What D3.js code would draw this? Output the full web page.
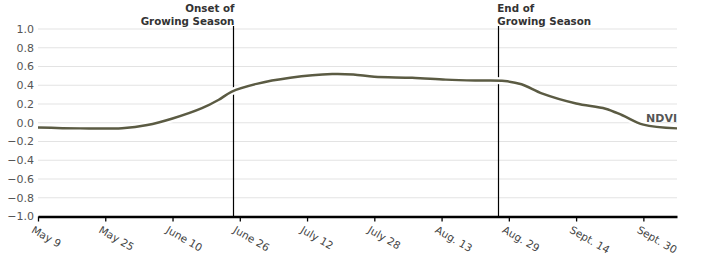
<!DOCTYPE html>
<html>
<head>
<meta charset="utf-8">
<script src="https://cdn.jsdelivr.net/npm/d3@7"></script>
<style>
  body { margin: 0; background: #fff; }
  svg { display: block; font-family: "DejaVu Sans", sans-serif; }
</style>
</head>
<body>
<svg id="chart" width="720" height="270"></svg>
<script>
// NDVI curve (day, value)
var DATES = ["2013-05-09","2013-05-19","2013-05-29","2013-06-04","2013-06-10","2013-06-17",
    "2013-06-21","2013-06-24","2013-06-30","2013-07-08","2013-07-18","2013-07-23","2013-07-28",
    "2013-08-06","2013-08-14","2013-08-21","2013-08-28","2013-09-01","2013-09-06","2013-09-14",
    "2013-09-21","2013-09-25","2013-09-30","2013-10-08"];
var NDVI = [-0.05,-0.06,-0.058,-0.025,0.045,0.155,0.245,0.33,0.415,0.48,0.52,0.515,0.49,
    0.48,0.46,0.45,0.445,0.41,0.31,0.205,0.15,0.08,-0.02,-0.06];

var TICK_DATES = ["2013-05-09","2013-05-25","2013-06-10","2013-06-26","2013-07-12",
    "2013-07-28","2013-08-13","2013-08-29","2013-09-14","2013-09-30"];
var TICK_LABELS = ["May 9","May 25","June 10","June 26","July 12","July 28",
    "Aug. 13","Aug. 29","Sept. 14","Sept. 30"];
var Y_TICKS = [-1,-0.8,-0.6,-0.4,-0.2,0,0.2,0.4,0.6,0.8,1];

var MARKER_DATES = ["2013-06-24T12:00","2013-08-26T12:00"];
var MARKER_LABELS = [["Onset of","Growing Season"],["End of","Growing Season"]];

var parseDate = d3.timeParse("%Y-%m-%d");
var parseMarker = d3.timeParse("%Y-%m-%dT%H:%M");
var data = DATES.map(function(d, i){ return {date: parseDate(d), value: NDVI[i]}; });

var margin = {top: 29, right: 43, bottom: 53.5, left: 38};
var width = 720, height = 270;
var svg = d3.select("#chart");

var x = d3.scaleTime()
    .domain([parseDate("2013-05-09"), parseDate("2013-10-08")])
    .range([margin.left, width - margin.right]);
var y = d3.scaleLinear()
    .domain([-1, 1])
    .range([height - margin.bottom, margin.top]);

// gridlines
svg.append("g")
    .selectAll("line")
    .data(Y_TICKS.filter(function(d){ return d > -1; }))
    .join("line")
    .attr("x1", margin.left)
    .attr("x2", width - margin.right)
    .attr("y1", function(d){ return y(d); })
    .attr("y2", function(d){ return y(d); })
    .attr("stroke", "#e3e3e3")
    .attr("stroke-width", 1);

// y labels
svg.append("g")
    .attr("font-size", 11)
    .attr("fill", "#555")
    .attr("text-anchor", "end")
    .selectAll("text")
    .data(Y_TICKS)
    .join("text")
    .attr("x", margin.left - 4)
    .attr("y", function(d){ return y(d); })
    .attr("dy", "0.35em")
    .text(function(d){ return d3.format(".1f")(d); });

// season markers
var markers = svg.append("g");
markers.selectAll("line")
    .data(MARKER_DATES)
    .join("line")
    .attr("x1", function(d){ return Math.round(x(parseMarker(d))) + 0.5; })
    .attr("x2", function(d){ return Math.round(x(parseMarker(d))) + 0.5; })
    .attr("y1", margin.top - 3)
    .attr("y2", height - margin.bottom)
    .attr("stroke", "#000")
    .attr("stroke-width", 1.2);

MARKER_DATES.forEach(function(d, i){
    var mx = x(parseMarker(d)) + (i == 0 ? 1 : -1);
    var t = markers.append("text")
        .attr("font-size", 10.3)
        .attr("font-weight", "bold")
        .attr("fill", "#333")
        .attr("text-anchor", i == 0 ? "end" : "start");
    MARKER_LABELS[i].forEach(function(line, j){
        t.append("tspan")
            .attr("x", mx)
            .attr("y", 12 + j * 12.5)
            .text(line);
    });
});

// x axis
var xAxis = function(g){
    g.attr("transform", "translate(0," + y(-1) + ")")
        .call(d3.axisBottom(x)
            .tickValues(TICK_DATES.map(parseDate))
            .tickFormat(function(d, i){ return TICK_LABELS[i]; })
            .tickSize(5)
            .tickSizeOuter(0));
    g.select(".domain").attr("stroke", "#000").attr("stroke-width", 2.5);
    g.selectAll(".tick line").attr("stroke", "#000").attr("stroke-width", 1.3);
    g.selectAll(".tick text")
        .attr("font-family", "DejaVu Sans, sans-serif")
        .attr("font-size", 10.5)
        .attr("fill", "#444")
        .attr("text-anchor", "start")
        .attr("y", 0)
        .attr("transform", "translate(-4,9) rotate(30)")
        .attr("dy", "0.71em");
};
svg.append("g").call(xAxis);

// curve with white halo
var line = d3.line()
    .x(function(d){ return x(d.date); })
    .y(function(d){ return y(d.value); })
    .curve(d3.curveCatmullRom.alpha(0.5));

svg.append("path")
    .datum(data)
    .attr("fill", "none")
    .attr("stroke", "#fff")
    .attr("stroke-width", 7)
    .attr("d", line);
svg.append("path")
    .datum(data)
    .attr("fill", "none")
    .attr("stroke", "#5b5b43")
    .attr("stroke-width", 2.5)
    .attr("stroke-linejoin", "round")
    .attr("d", line);

svg.append("text")
    .attr("x", width - margin.right)
    .attr("y", y(0) - 1)
    .attr("text-anchor", "end")
    .attr("font-size", 11)
    .attr("font-weight", "bold")
    .attr("fill", "#555")
    .text("NDVI");
</script>
</body>
</html>
